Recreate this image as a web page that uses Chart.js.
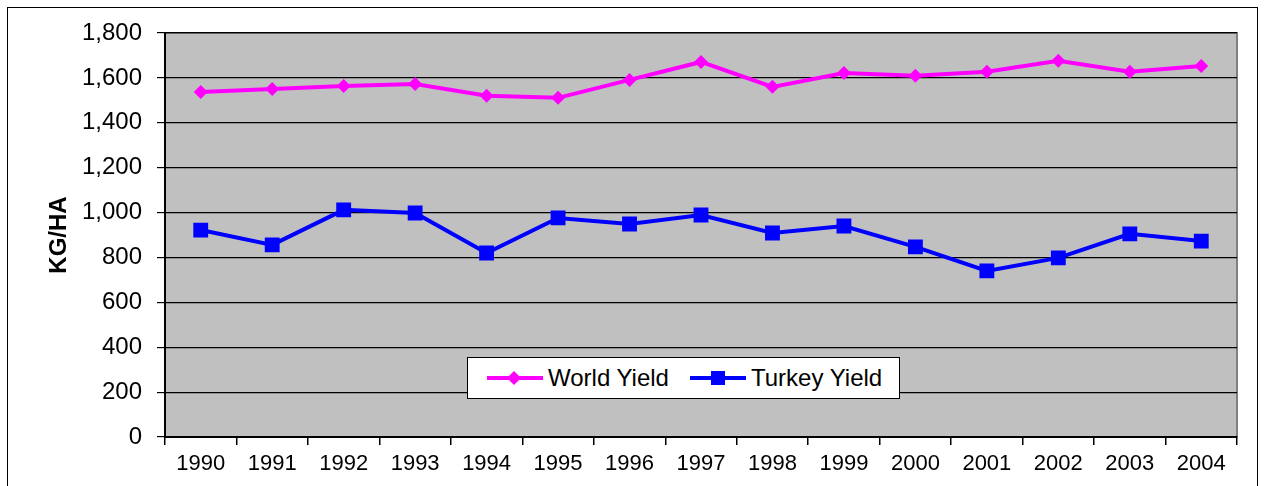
<!DOCTYPE html>
<html>
<head>
<meta charset="utf-8">
<script src="https://cdn.jsdelivr.net/npm/chart.js@4/dist/chart.umd.min.js"></script>
<style>
	html, body { margin: 0; padding: 0; background: #fff; }
	#wrap { position: relative; width: 1264px; height: 486px; overflow: hidden; }
	#frame { position: absolute; left: 7px; top: 7px; width: 1249px; height: 500px; border: 1.5px solid #000; pointer-events: none; }
	#legend {
		position: absolute; left: 467px; top: 357px; width: 431px; height: 40px;
		background: #fff; border: 1.5px solid #000;
		font-family: "Liberation Sans", Arial, sans-serif; font-size: 24px; color: #000;
	}
	.item { display: flex; align-items: center; position: absolute; top: 0; height: 40px; }
	.item svg { margin-right: 5px; }
</style>
</head>
<body>
<div id="wrap">
	<canvas id="chart" width="1264" height="486"></canvas>
	<div id="legend">
		<div class="item" style="left:19px">
			<svg width="56" height="16"><line x1="0" y1="8" x2="56" y2="8" stroke="#FF00FF" stroke-width="4"/><polygon points="20,8 27,1 34,8 27,15" fill="#FF00FF"/></svg>
			<span>World Yield</span>
		</div>
		<div class="item" style="left:222px">
			<svg width="56" height="16"><line x1="0" y1="8" x2="56" y2="8" stroke="#0000FF" stroke-width="4"/><rect x="21" y="1" width="14" height="14" fill="#0000FF"/></svg>
			<span>Turkey Yield</span>
		</div>
	</div>
	<div id="frame"></div>
</div>
<script>
// Données
const years = ['1990', '1991', '1992', '1993', '1994', '1995', '1996', '1997', '1998', '1999', '2000', '2001', '2002', '2003', '2004'];
const worldYield = [1537, 1551, 1564, 1573, 1520, 1511, 1591, 1671, 1560, 1622, 1609, 1627, 1676, 1627, 1653];
const turkeyYield = [922, 856, 1012, 998, 820, 976, 949, 989, 909, 940, 847, 740, 798, 905, 873];

const fontFamily = '"Liberation Sans", Arial, sans-serif';

// Fond gris et bordure de la zone de tracé
const plotBackground = {
	id: 'plotBackground',
	beforeDraw(chart) {
		const { ctx, chartArea: a } = chart;
		ctx.save();
		ctx.fillStyle = '#C0C0C0';
		ctx.fillRect(a.left, a.top, a.right - a.left, a.bottom - a.top);
		ctx.strokeStyle = '#808080';
		ctx.lineWidth = 2;
		ctx.beginPath();
		ctx.moveTo(a.left, a.top);
		ctx.lineTo(a.right, a.top);
		ctx.lineTo(a.right, a.bottom);
		ctx.stroke();
		ctx.restore();
	}
};

new Chart(document.getElementById('chart'), {
	type: 'line',
	data: {
		labels: years,
		datasets: [
			{
				label: 'World Yield',
				data: worldYield,
				borderColor: '#FF00FF',
				backgroundColor: '#FF00FF',
				borderWidth: 4,
				pointStyle: 'rectRot',
				pointRadius: 7,
				pointBorderWidth: 0,
				tension: 0
			},
			{
				label: 'Turkey Yield',
				data: turkeyYield,
				borderColor: '#0000FF',
				backgroundColor: '#0000FF',
				borderWidth: 4,
				pointStyle: 'rect',
				pointRadius: 10.5,
				pointBorderWidth: 0,
				tension: 0
			}
		]
	},
	options: {
		responsive: false,
		animation: false,
		layout: { padding: { left: 41, top: 33, right: 27, bottom: 12 } },
		plugins: {
			legend: { display: false },
			tooltip: { enabled: false }
		},
		scales: {
			x: {
				offset: true,
				grid: { offset: true, drawOnChartArea: false, drawTicks: true, tickLength: 8, color: '#000', lineWidth: 1.5 },
				border: { color: '#000', width: 2 },
				ticks: { font: { family: fontFamily, size: 22 }, color: '#000', padding: 6, maxRotation: 0, autoSkip: false },
				afterFit(scale) { scale.height = 37; }
			},
			y: {
				min: 0,
				max: 1800,
				ticks: {
					stepSize: 200,
					font: { family: fontFamily, size: 24 },
					color: '#000',
					padding: 15,
					callback: (v) => v.toLocaleString('en-US')
				},
				grid: { color: '#000', lineWidth: 1.2, tickLength: 8 },
				border: { color: '#000', width: 2 },
				title: {
					display: true,
					text: 'KG/HA',
					color: '#000',
					font: { family: fontFamily, size: 24, weight: 'bold' }
				},
				afterFit(scale) { scale.width = 124; }
			}
		}
	},
	plugins: [plotBackground]
});
</script>
</body>
</html>
